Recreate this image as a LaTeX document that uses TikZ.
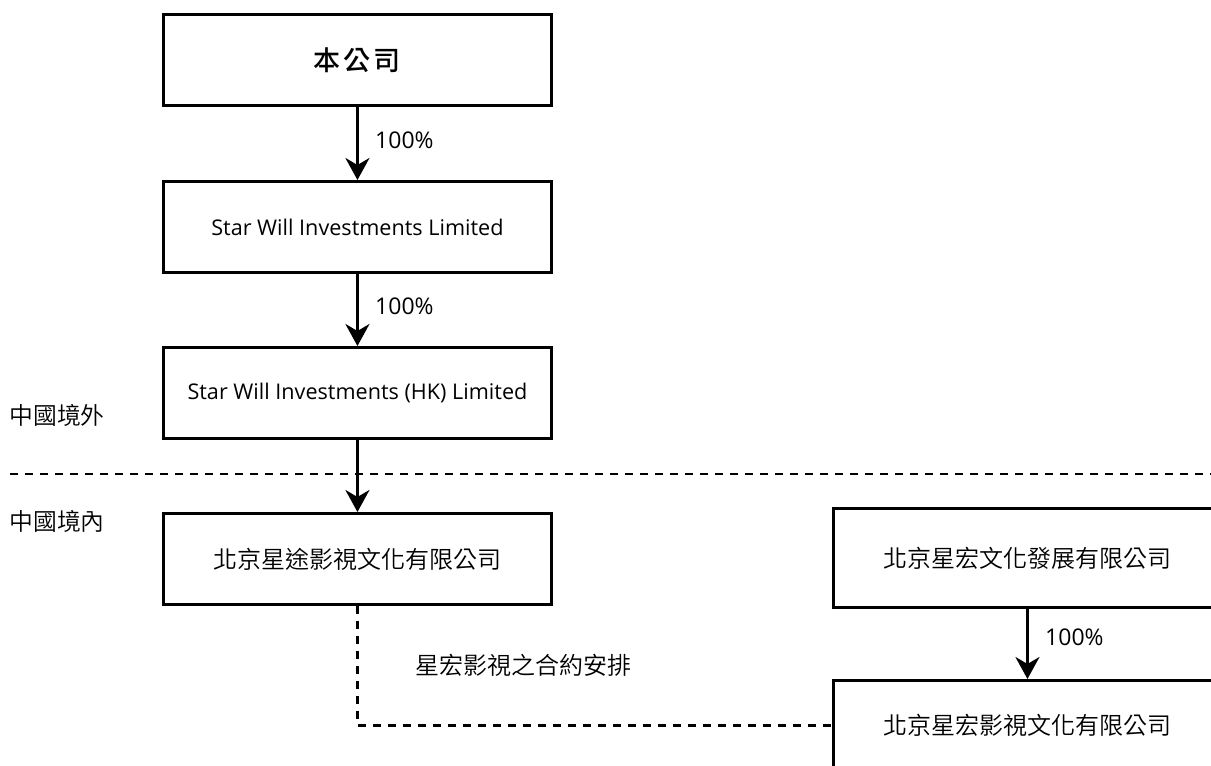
\documentclass[tikz,border=0pt]{standalone}
\usepackage{fontspec}
\setmainfont{Open Sans}
\newfontfamily\cjk{Noto Sans CJK TC DemiLight}
\newfontfamily\cjkbold{Noto Sans CJK TC Medium}
\usetikzlibrary{arrows.meta}
\begin{document}
\begin{tikzpicture}[x=1pt,y=-1pt,
  entity/.style={draw,line width=2.9pt,minimum width=388pt,minimum height=91pt,inner sep=0pt,anchor=north west},
  rentity/.style={draw,line width=2.9pt,minimum width=388pt,minimum height=99pt,inner sep=0pt,anchor=north west},
  own/.style={line width=2.9pt,-{Stealth[length=22pt,width=24pt,inset=7pt]}},
  pct/.style={anchor=west,font=\fontsize{23}{27}\selectfont},
  en/.style={font=\fontsize{21.6}{26}\selectfont},
  zh/.style={font=\fontsize{24}{28}\cjk},
  divider/.style={dash pattern=on 8pt off 7pt,line width=2.8pt},
  contract/.style={dash pattern=on 8pt off 7pt,line width=2.8pt}]
\useasboundingbox (0,0) rectangle (1211,766);
\clip (0,0) rectangle (1211,766);
\node[entity] (co) at (162,13) {\fontsize{27}{32}\cjkbold 本\hspace{3pt}公\hspace{3pt}司};
\node[entity,en] (sw) at (162,180) {Star Will Investments Limited};
\node[entity,en] (hk) at (162,346) {Star Will Investments (HK) Limited};
\node[entity,zh] (bj) at (162,512) {北京星途影視文化有限公司};
\node[rentity,zh] (fz) at (832,507) {北京星宏文化發展有限公司};
\node[entity,zh,minimum height=90pt] (ys) at (832,679) {北京星宏影視文化有限公司};
\coordinate (dl) at (10,474);
\coordinate (dr) at (1211,474);
\draw[divider] (dl) -- (dr);
\draw[own] (co.south) -- node[pct,pos=0.45,xshift=13pt] (p1) {100\%} (sw.north);
\draw[own] (sw.south) -- node[pct,pos=0.45,xshift=13pt] (p2) {100\%} (hk.north);
\draw[own] (hk.south) -- (bj.north);
\draw[own] (fz.south) -- node[pct,pos=0.40,xshift=13pt] (p3) {100\%} (fz.south |- ys.north);
\draw[contract] (bj.south) |- (ys.west);
\node[zh,anchor=west] (ct) at (412,665) {星宏影視之合約安排};
\node[anchor=west,font=\fontsize{23.8}{28}\cjk] (out) at (6,415) {中國境外};
\node[anchor=west,font=\fontsize{23.8}{28}\cjk] (in) at (6,521) {中國境內};
\end{tikzpicture}
\end{document}
